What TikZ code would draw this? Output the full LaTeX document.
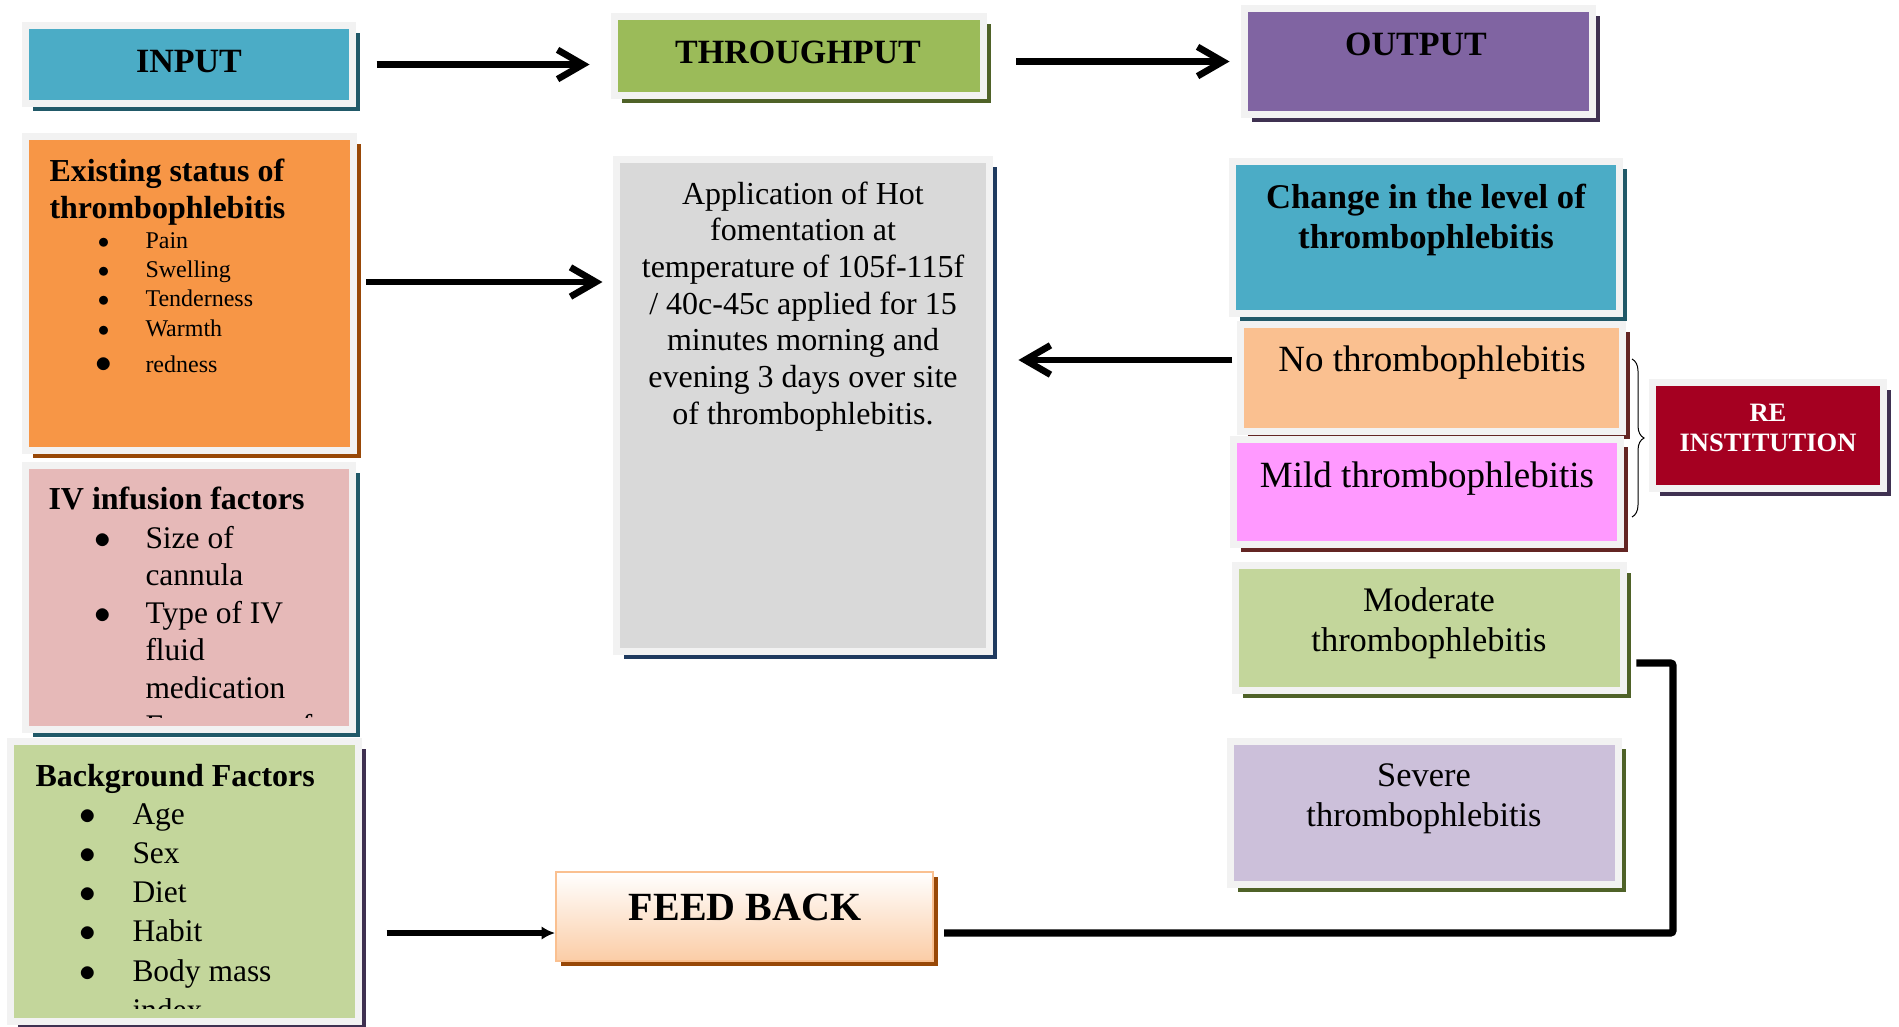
\documentclass[tikz,border=0pt]{standalone}
\usepackage{fontspec}
\setmainfont{Liberation Serif}
\usetikzlibrary{arrows.meta,shadows,fit,decorations.pathreplacing}

\definecolor{aquaA}{HTML}{4BACC6}
\definecolor{aquaD}{HTML}{215968}
\definecolor{oliveA}{HTML}{9BBB59}
\definecolor{oliveL}{HTML}{C3D69B}
\definecolor{oliveD}{HTML}{4F6228}
\definecolor{purpA}{HTML}{8064A2}
\definecolor{purpL}{HTML}{CCC0DA}
\definecolor{purpD}{HTML}{3F3151}
\definecolor{orangA}{HTML}{F79646}
\definecolor{orangL}{HTML}{FAC090}
\definecolor{orangD}{HTML}{984807}
\definecolor{roseL}{HTML}{E6B9B8}
\definecolor{redD}{HTML}{632523}
\definecolor{pinkA}{HTML}{FF99FF}
\definecolor{crimson}{HTML}{A50021}
\definecolor{greyL}{HTML}{D9D9D9}
\definecolor{navyD}{HTML}{1F3A5F}
\definecolor{bevel}{HTML}{F2F2F2}

\newcommand{\bul}[1]{\llap{$\bullet$\hspace{#1}}}

\tikzset{every picture/.style={line width=0.75pt}}
\tikzset{
  panel/.style 2 args={draw=bevel, line width=5.25pt, fill=#1, inner sep=0pt,
    drop shadow={shadow xshift=5.6pt, shadow yshift=-5.6pt, fill=#2, opacity=1}},
  head/.style={anchor=base, inner sep=0pt, font=\bfseries\fontsize{25.5}{30}\selectfont},
  txt/.style={inner sep=0pt},
  bigarrow/.style={line width=5pt, -{Straight Barb[length=19pt,width=22pt]}},
  fbline/.style={line width=5.5pt, rounded corners=2pt},
}

\begin{document}
\begin{tikzpicture}[x=0.75pt,y=0.75pt,yscale=-1,xscale=1]
\useasboundingbox (0,0) rectangle (1899,1026);

% top row
\node (input) [panel={aquaA}{aquaD}, fit={(25.5,25.5) (352.5,103.5)}] {};
\node (thru) [panel={oliveA}{oliveD}, fit={(614.5,16.5) (983.5,95.5)}] {};
\node (output) [panel={purpA}{purpD}, fit={(1244.5,8.5) (1592.5,114.5)}] {};
\node (input-t) [head] at (189,72) {INPUT};
\node (thru-t) [head] at (798,63) {THROUGHPUT};
\node (output-t) [head] at (1416,55) {OUTPUT};

% input column
\node (exist) [panel={orangA}{orangD}, fit={(25.5,136.5) (353.5,450.5)}] {};
\node (iv) [panel={roseL}{aquaD}, fit={(25.5,465.5) (352.5,729.5)}] {};
\node (bg) [panel={oliveL}{purpD}, fit={(10.5,741.5) (358.5,1021.5)}] {};

\node (exist-t) [txt, anchor=north west, align=left, font=\bfseries\fontsize{24}{27.75}\selectfont] at (49,158) {Existing status of\\thrombophlebitis};
\node (exist-l) [txt, anchor=north west, align=left, font=\fontsize{18}{22.1}\selectfont] at (145,231.6)
  {\bul{27pt}Pain\\ \bul{27pt}Swelling\\ \bul{27pt}Tenderness\\ \bul{27pt}Warmth\\[4.9pt] \llap{{\fontsize{24}{24}\selectfont$\bullet$}\hspace{25pt}}redness};

\node (iv-t) [txt, anchor=north west, font=\bfseries\fontsize{24}{27.75}\selectfont] at (48,486.9) {IV infusion factors};
\begin{scope}
\clip (29,469) rectangle (348,717);
\node (iv-l) [txt, anchor=north west, align=left, font=\fontsize{23.6}{28.2}\selectfont] at (145,525.5)
  {\bul{25.6pt}Size of\\cannula\\ \bul{25.6pt}Type of IV\\fluid\\medication\\ \bul{25.6pt}Frequency of};
\end{scope}

\node (bg-t) [txt, anchor=north west, font=\bfseries\fontsize{24}{27.75}\selectfont] at (35,763.4) {Background Factors};
\begin{scope}
\clip (15,746) rectangle (360,1008);
\node (bg-l) [txt, anchor=north west, align=left, font=\fontsize{23.6}{29.4}\selectfont] at (132,803.1)
  {\bul{27.1pt}Age\\ \bul{27.1pt}Sex\\ \bul{27.1pt}Diet\\ \bul{27.1pt}Habit\\ \bul{27.1pt}Body mass\\index};
\end{scope}

% throughput column
\node (apply) [panel={greyL}{navyD}, fit={(616.5,159.5) (989.5,651.5)}] {};
\node (apply-t) [txt, anchor=north, align=center, font=\fontsize{24}{27.5}\selectfont] at (803,181.1)
  {Application of Hot\\fomentation at\\temperature of 105f-115f\\/ 40c-45c applied for 15\\minutes morning and\\evening 3 days over site\\of thrombophlebitis.};

\node (fb) [draw=orangL, line width=1.5pt, top color=white, bottom color=orangL!80, inner sep=0pt,
  drop shadow={shadow xshift=3.75pt, shadow yshift=-3.75pt, fill=orangD, opacity=1},
  fit={(556,872) (933,961)}] {};
\node (fb-t) [txt, anchor=base, font=\bfseries\fontsize{30}{34}\selectfont] at (745,920) {FEED BACK};

% output column
\node (change) [panel={aquaA}{aquaD}, fit={(1232.5,161.5) (1619.5,313.5)}] {};
\node (no) [panel={orangL}{redD}, fit={(1240.5,324.5) (1622.5,431.5)}] {};
\node (mild) [panel={pinkA}{redD}, fit={(1233.5,439.5) (1620.5,544.5)}] {};
\node (mod) [panel={oliveL}{oliveD}, fit={(1235.5,565.5) (1623.5,690.5)}] {};
\node (sev) [panel={purpL}{oliveD}, fit={(1230.5,741.5) (1618.5,884.5)}] {};
\node (re) [panel={crimson}{purpD}, fit={(1652.5,382.5) (1883.5,488.5)}] {};

\node (change-t) [txt, anchor=north, align=center, font=\bfseries\fontsize{26}{30}\selectfont] at (1426,184) {Change in the level of\\thrombophlebitis};
\node (no-t) [txt, anchor=base, font=\fontsize{27.75}{32}\selectfont] at (1432,371) {No thrombophlebitis};
\node (mild-t) [txt, anchor=base, font=\fontsize{27.75}{32}\selectfont] at (1427,487) {Mild thrombophlebitis};
\node (mod-t) [txt, anchor=north, align=center, font=\fontsize{25.8}{29.6}\selectfont] at (1429,587.5) {Moderate\\thrombophlebitis};
\node (sev-t) [txt, anchor=north, align=center, font=\fontsize{25.8}{29.6}\selectfont] at (1424,763.7) {Severe\\thrombophlebitis};
\node (re-t) [txt, anchor=north, align=center, text=white, font=\bfseries\fontsize{19.9}{22.5}\selectfont] at (1768,404.1) {RE\\INSTITUTION};

% connectors
\coordinate (rowexist) at (0,282);
\coordinate (rowno) at (0,360);
\coordinate (rowmod) at (0,663);
\coordinate (rowfb) at (0,933);
\coordinate (bend) at (1673,933);
\coordinate (brtop) at (1632,359);
\coordinate (brbot) at (1632,517);

\draw [bigarrow, shorten <=15.4pt, shorten >=16.1pt] (input.east) -- (input.east -| thru.west);
\draw [bigarrow, shorten <=22.1pt, shorten >=8.6pt] (thru.east |- output.west) -- (output.west);
\draw [bigarrow, shorten <=7.1pt, shorten >=7.9pt] (exist.east |- rowexist) -- (apply.west |- rowexist);
\draw [bigarrow, shorten <=3.4pt, shorten >=19.1pt] (no.west |- rowno) -- (apply.east |- rowno);
\draw [line width=4pt, -{Latex[length=10pt,width=10pt]}, shorten <=18.4pt] (bg.east |- rowfb) -- (fb.west |- rowfb);
\draw [fbline, shorten <=7.1pt, shorten >=7.5pt] (mod.east |- rowmod) -| (bend) -- (fb.east |- rowfb);
\draw [decorate, decoration={brace, amplitude=9pt}] (brtop) -- (brbot);

\end{tikzpicture}
\end{document}
